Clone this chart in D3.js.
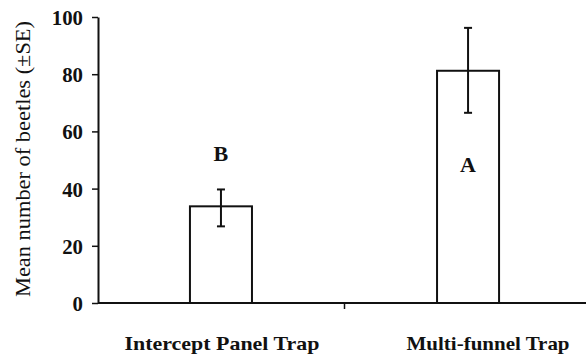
<!DOCTYPE html>
<html>
<head>
<meta charset="utf-8">
<script src="https://cdn.jsdelivr.net/npm/d3@7"></script>
<style>
  body { margin: 0; background: #fff; }
  svg { display: block; }
  text { font-family: "Liberation Serif", "Times New Roman", serif; fill: #111; }
</style>
</head>
<body>
<svg id="chart" width="586" height="356"></svg>
<script>
// data
const categories = ['Intercept Panel Trap', 'Multi-funnel Trap'];
const means = [33.8, 81.2];
const seUpper = [39.7, 96.2];
const seLower = [26.8, 66.5];
const groupLetters = ['B', 'A'];
const yTicks = [0, 20, 40, 60, 80, 100];

const svg = d3.select('#chart');
const margin = { top: 17, right: 0, bottom: 53, left: 98 };
const width = 586 - margin.left - margin.right;
const height = 356 - margin.top - margin.bottom;

const g = svg.append('g').attr('transform', `translate(${margin.left},${margin.top})`);

const x = d3.scaleBand()
  .domain(categories)
  .range([0, width])
  .paddingInner(0.749)
  .paddingOuter(0.362)
  .align(0.514);

const y = d3.scaleLinear().domain([0, 100]).range([height, 0]);

// y axis
const yAxis = g.append('g')
  .call(d3.axisLeft(y).tickValues(yTicks).tickSize(6).tickSizeOuter(0));
yAxis.attr('font-family', null).attr('font-size', null);
yAxis.select('.domain').attr('stroke', '#111').attr('stroke-width', 2);
yAxis.selectAll('.tick line').attr('stroke', '#111').attr('stroke-width', 1.5);
yAxis.selectAll('.tick text')
  .attr('x', -15)
  .attr('dy', '0.36em')
  .attr('textLength', d => String(d).length * 10.4)
  .attr('lengthAdjust', 'spacingAndGlyphs')
  .style('font-size', '21px')
  .style('font-weight', 'bold')
  .attr('fill', '#111');

// x axis baseline
g.append('line')
  .attr('x1', 0).attr('x2', width)
  .attr('y1', y(0)).attr('y2', y(0))
  .attr('stroke', '#111').attr('stroke-width', 2);

// tick between the two groups
const mid = (x(categories[0]) + x(categories[1]) + x.bandwidth()) / 2;
g.append('line')
  .attr('x1', mid).attr('x2', mid)
  .attr('y1', y(0)).attr('y2', y(0) + 6)
  .attr('stroke', '#111').attr('stroke-width', 1.5);

// bars
g.selectAll('rect.bar')
  .data(categories)
  .join('rect')
  .attr('class', 'bar')
  .attr('x', d => x(d))
  .attr('y', (d, i) => y(means[i]))
  .attr('width', x.bandwidth())
  .attr('height', (d, i) => y(0) - y(means[i]))
  .attr('fill', '#fff')
  .attr('stroke', '#111')
  .attr('stroke-width', 2);

// error bars
const cap = 8;
categories.forEach((c, i) => {
  const cx = x(c) + x.bandwidth() / 2;
  g.append('line')
    .attr('x1', cx).attr('x2', cx)
    .attr('y1', y(seUpper[i])).attr('y2', y(seLower[i]))
    .attr('stroke', '#111').attr('stroke-width', 2);
  [seUpper[i], seLower[i]].forEach(v => {
    g.append('line')
      .attr('x1', cx - cap / 2).attr('x2', cx + cap / 2)
      .attr('y1', y(v)).attr('y2', y(v))
      .attr('stroke', '#111').attr('stroke-width', 2);
  });
});

// significance letters: B above first bar, A inside second
const letterY = [seUpper[0] + 10, means[1] - 35.5];
g.selectAll('text.letter')
  .data(groupLetters)
  .join('text')
  .attr('class', 'letter')
  .attr('x', (d, i) => x(categories[i]) + x.bandwidth() / 2)
  .attr('y', (d, i) => y(letterY[i]))
  .attr('text-anchor', 'middle')
  .style('font-size', '22px')
  .style('font-weight', 'bold')
  .text(d => d);

// category labels
const labelShift = [1, 20];
const labelLength = [195, 163];
g.selectAll('text.cat')
  .data(categories)
  .join('text')
  .attr('class', 'cat')
  .attr('x', (d, i) => x(d) + x.bandwidth() / 2 + labelShift[i])
  .attr('y', height + 47)
  .attr('text-anchor', 'middle')
  .attr('textLength', (d, i) => labelLength[i])
  .attr('lengthAdjust', 'spacingAndGlyphs')
  .style('font-size', '19px')
  .style('font-weight', 'bold')
  .text(d => d);

// y axis title
svg.append('text')
  .attr('transform', 'translate(30,159) rotate(-90)')
  .attr('text-anchor', 'middle')
  .attr('textLength', 276)
  .attr('lengthAdjust', 'spacingAndGlyphs')
  .style('font-size', '20px')
  .text('Mean number of beetles (±SE)');
</script>
</body>
</html>
